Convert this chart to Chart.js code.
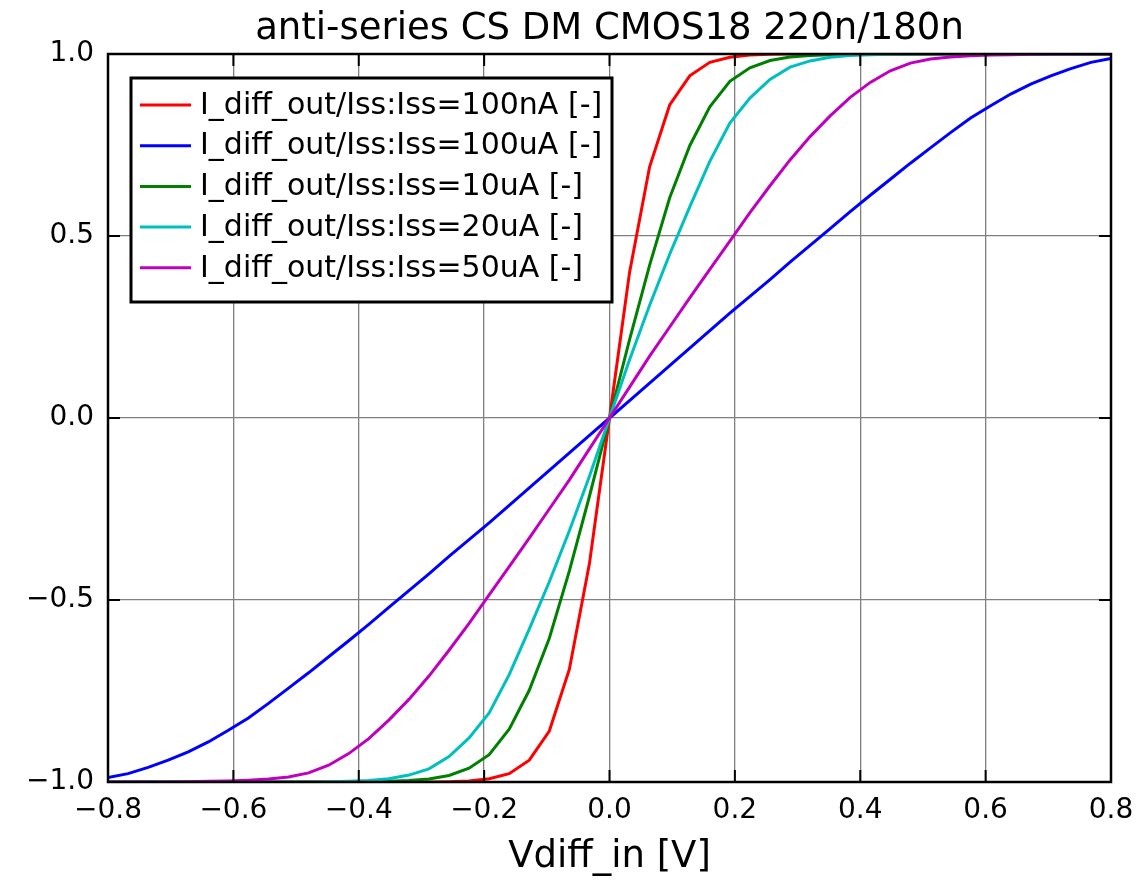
<!DOCTYPE html>
<html>
<head>
<meta charset="utf-8">
<title>anti-series CS DM CMOS18 220n/180n</title>
<script src="https://cdn.jsdelivr.net/npm/chart.js@4.4.0/dist/chart.umd.min.js"></script>
<style>
  html, body { margin: 0; padding: 0; background: #fff; }
</style>
</head>
<body>
<canvas id="chart" width="1142" height="880"></canvas>
<script>
// Sweep of Vdiff_in [V]
const vdiff = [-0.8, -0.768, -0.736, -0.704, -0.672, -0.64, -0.608, -0.576, -0.544, -0.512,
  -0.48, -0.448, -0.416, -0.384, -0.352, -0.32, -0.288, -0.256, -0.224, -0.192,
  -0.16, -0.128, -0.096, -0.064, -0.032, 0, 0.032, 0.064, 0.096, 0.128,
  0.16, 0.192, 0.224, 0.256, 0.288, 0.32, 0.352, 0.384, 0.416, 0.448,
  0.48, 0.512, 0.544, 0.576, 0.608, 0.64, 0.672, 0.704, 0.736, 0.768, 0.8];

// I_diff_out/Iss for each Iss
const iss100nA = [-1, -1, -1, -1, -1, -1, -1, -1, -1, -1, -1, -1, -1, -1, -1, -1, -1,
  -0.999, -0.997, -0.991, -0.977, -0.94, -0.86, -0.69, -0.40, 0,
  0.40, 0.69, 0.86, 0.94, 0.977, 0.991, 0.997, 0.999,
  1, 1, 1, 1, 1, 1, 1, 1, 1, 1, 1, 1, 1, 1, 1, 1, 1];
const iss100uA = [-0.988, -0.977, -0.96, -0.94, -0.917, -0.89, -0.858, -0.824, -0.784, -0.742,
  -0.70, -0.656, -0.612, -0.567, -0.52, -0.474, -0.428, -0.38, -0.334, -0.288,
  -0.24, -0.192, -0.144, -0.096, -0.048, 0,
  0.048, 0.096, 0.144, 0.192, 0.24, 0.288, 0.334, 0.38, 0.428, 0.474,
  0.52, 0.567, 0.612, 0.656, 0.70, 0.742, 0.784, 0.824, 0.858, 0.89,
  0.917, 0.94, 0.96, 0.977, 0.988];
const iss10uA = [-1, -1, -1, -1, -1, -1, -1, -1, -1, -1, -1, -1, -1,
  -0.999, -0.998, -0.996, -0.992, -0.982, -0.962, -0.925, -0.855, -0.748, -0.605, -0.42, -0.215, 0,
  0.215, 0.42, 0.605, 0.748, 0.855, 0.925, 0.962, 0.982, 0.992, 0.996, 0.998, 0.999,
  1, 1, 1, 1, 1, 1, 1, 1, 1, 1, 1, 1, 1];
const iss20uA = [-1, -1, -1, -1, -1, -1, -1, -1, -1, -1, -1,
  -0.999, -0.998, -0.996, -0.991, -0.981, -0.964, -0.93, -0.879, -0.81, -0.705, -0.58, -0.45, -0.31, -0.16, 0,
  0.16, 0.31, 0.45, 0.58, 0.705, 0.81, 0.879, 0.93, 0.964, 0.981, 0.991, 0.996, 0.998, 0.999,
  1, 1, 1, 1, 1, 1, 1, 1, 1, 1, 1];
const iss50uA = [-1, -1, -1, -1, -0.999, -0.998, -0.997, -0.995, -0.992, -0.986,
  -0.975, -0.954, -0.922, -0.881, -0.83, -0.773, -0.709, -0.638, -0.564, -0.486,
  -0.408, -0.33, -0.25, -0.17, -0.085, 0,
  0.085, 0.17, 0.25, 0.33, 0.408, 0.486, 0.564, 0.638, 0.709, 0.773,
  0.83, 0.881, 0.922, 0.954, 0.975, 0.986, 0.992, 0.995, 0.997, 0.998,
  0.999, 1, 1, 1, 1];

const seriesLabels = [
  'I_diff_out/Iss:Iss=100nA [-]',
  'I_diff_out/Iss:Iss=100uA [-]',
  'I_diff_out/Iss:Iss=10uA [-]',
  'I_diff_out/Iss:Iss=20uA [-]',
  'I_diff_out/Iss:Iss=50uA [-]'
];
const seriesValues = [iss100nA, iss100uA, iss10uA, iss20uA, iss50uA];
const seriesColors = ['#ff0000', '#0000ff', '#008000', '#00bfbf', '#bf00bf'];

const xTicks = [-0.8, -0.6, -0.4, -0.2, 0, 0.2, 0.4, 0.6, 0.8];
const yTicks = [-1, -0.5, 0, 0.5, 1];

const chartTitle = 'anti-series CS DM CMOS18 220n/180n';
const FONT = 'DejaVu Sans';
const fmt = v => v.toFixed(1).replace('-', '\u2212');

// Title over the plot, frame, inward ticks and boxed legend (matplotlib classic look)
const framePlugin = {
  id: 'frame',
  afterDatasetsDraw(chart) {
    const { ctx, chartArea: a, scales } = chart;
    ctx.save();

    ctx.fillStyle = '#000';
    ctx.font = '37px "' + FONT + '"';
    ctx.textAlign = 'center';
    ctx.textBaseline = 'alphabetic';
    ctx.fillText(chartTitle, (a.left + a.right) / 2, 39);

    ctx.strokeStyle = '#000';
    ctx.lineWidth = 2;
    ctx.beginPath();
    xTicks.forEach(v => {
      const px = scales.x.getPixelForValue(v);
      ctx.moveTo(px, a.bottom); ctx.lineTo(px, a.bottom - 12);
      ctx.moveTo(px, a.top); ctx.lineTo(px, a.top + 12);
    });
    yTicks.forEach(v => {
      const py = scales.y.getPixelForValue(v);
      ctx.moveTo(a.left, py); ctx.lineTo(a.left + 12, py);
      ctx.moveTo(a.right, py); ctx.lineTo(a.right - 12, py);
    });
    ctx.stroke();
    ctx.lineWidth = 2.5;
    ctx.strokeRect(a.left, a.top, a.right - a.left, a.bottom - a.top);

    // legend
    const bx = a.left + 23, by = a.top + 24, bw = 481, bh = 224;
    ctx.fillStyle = '#fff';
    ctx.fillRect(bx, by, bw, bh);
    ctx.lineWidth = 3;
    ctx.strokeRect(bx, by, bw, bh);
    ctx.font = '30px "' + FONT + '"';
    ctx.textBaseline = 'middle';
    ctx.textAlign = 'left';
    chart.data.datasets.forEach((ds, i) => {
      const y = by + 27 + i * 40.7;
      ctx.strokeStyle = ds.borderColor;
      ctx.lineWidth = 3;
      ctx.beginPath();
      ctx.moveTo(bx + 9, y);
      ctx.lineTo(bx + 60, y);
      ctx.stroke();
      ctx.fillStyle = '#000';
      ctx.fillText(ds.label, bx + 69, y + 1);
    });
    ctx.restore();
  }
};

new Chart(document.getElementById('chart'), {
  type: 'line',
  data: {
    datasets: seriesLabels.map((label, i) => ({
      label,
      data: vdiff.map((x, j) => ({ x, y: seriesValues[i][j] })),
      borderColor: seriesColors[i],
      backgroundColor: seriesColors[i],
      borderWidth: 3,
      pointRadius: 0,
      tension: 0,
      fill: false,
      order: seriesLabels.length - i
    }))
  },
  options: {
    responsive: false,
    animation: false,
    layout: { padding: { left: 0, right: 31, top: 54, bottom: 0 } },
    plugins: {
      legend: { display: false },
      tooltip: { enabled: false },
      title: { display: false }
    },
    scales: {
      x: {
        type: 'linear',
        min: -0.8, max: 0.8,
        afterBuildTicks: s => { s.ticks = xTicks.map(value => ({ value })); },
        afterFit: s => { s.height = 98; s.paddingLeft = 0; s.paddingRight = 0; },
        grid: { color: '#808080', lineWidth: 1.3, drawTicks: false },
        border: { display: false },
        ticks: {
          color: '#000', padding: 12,
          font: { family: FONT, size: 28 },
          callback: v => fmt(v)
        },
        title: {
          display: true, text: 'Vdiff_in [V]', color: '#000',
          font: { family: FONT, size: 37, lineHeight: 1.2 },
          padding: { top: 0, bottom: 0 }
        }
      },
      y: {
        min: -1, max: 1,
        afterBuildTicks: s => { s.ticks = yTicks.map(value => ({ value })); },
        afterFit: s => { s.width = 108; s.paddingTop = 0; s.paddingBottom = 0; },
        grid: { color: '#808080', lineWidth: 1.3, drawTicks: false },
        border: { display: false },
        ticks: {
          color: '#000', padding: 14,
          font: { family: FONT, size: 28 },
          callback: v => fmt(v)
        }
      }
    }
  },
  plugins: [framePlugin]
});
</script>
</body>
</html>
